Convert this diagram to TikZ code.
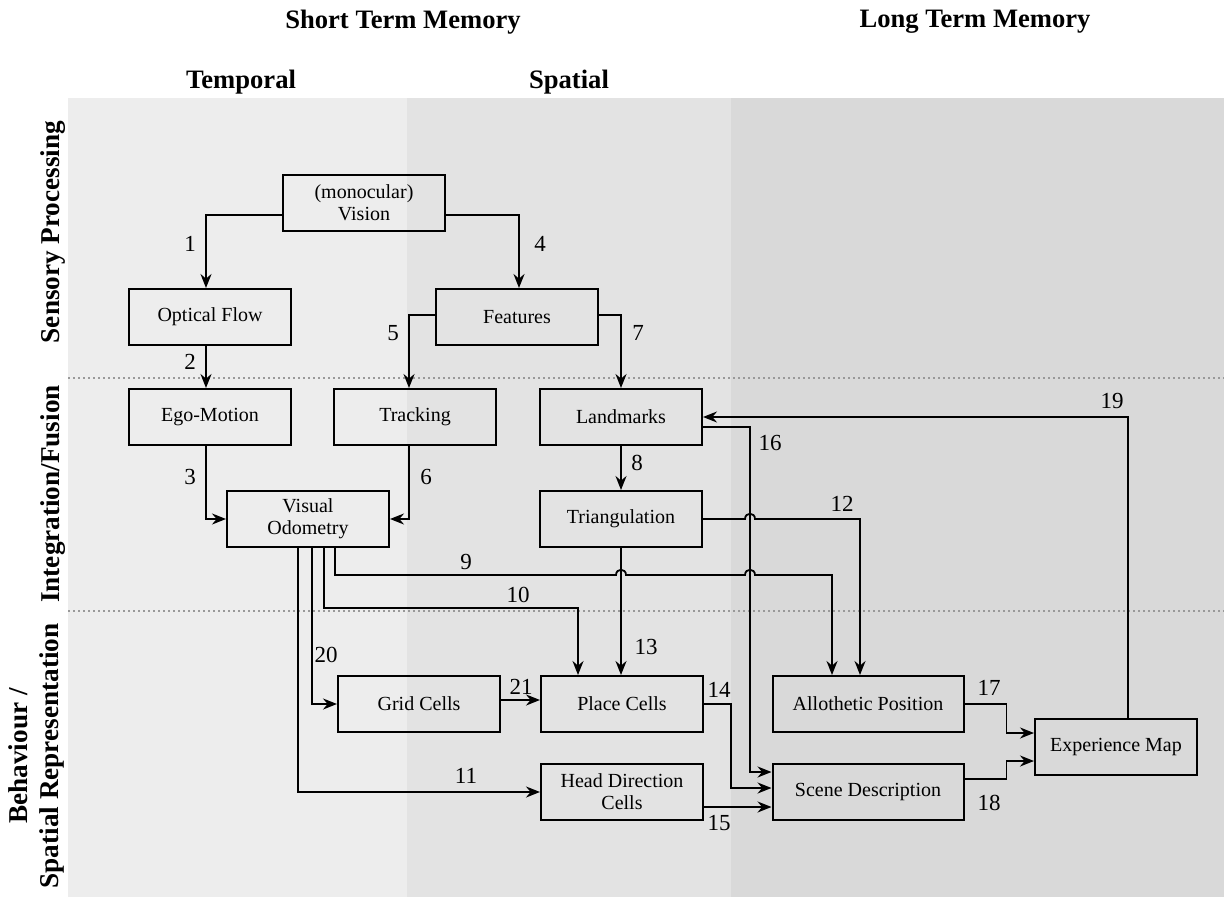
\documentclass[tikz,border=0pt]{standalone}
\usepackage{fontspec}
\setmainfont{Liberation Serif}
\usepackage{tikz}
\usetikzlibrary{positioning}
\usetikzlibrary{calc}
\usetikzlibrary{arrows.meta}
\tikzset{myBox/.style={draw, line width=1pt, minimum width=81pt, minimum height=28pt, align=center, font=\fontsize{10}{11}\selectfont}}
\tikzset{myBoxWide/.style={myBox, minimum width=95.5pt}}
\tikzset{myArrow/.style={-{Stealth[length=7pt,width=5.5pt,inset=2.3pt]}, line width=0.9pt}}
\tikzset{myNum/.style={font=\fontsize{11.5}{12}\selectfont}}
\tikzset{myHead/.style={font=\fontsize{13.3}{15.5}\selectfont\bfseries}}
\tikzset{mySide/.style={font=\fontsize{13.6}{15.5}\selectfont\bfseries, rotate=90, align=center}}
\tikzset{myRule/.style={black!40, line width=1pt, dash pattern=on 1pt off 1.5pt}}

\begin{document}
\begin{tikzpicture}[x=0.5pt, y=-0.5pt]
\useasboundingbox (0,0) rectangle (1224,897);
\fill[black!7] (68,98) rectangle (407,897);
\fill[black!11] (407,98) rectangle (731,897);
\fill[black!15] (731,98) rectangle (1224,897);
\draw[myRule] (68,378) -- (1224,378);
\draw[myRule] (68,611) -- (1224,611);

\node[myHead] (stm) at (403,22) {Short Term Memory};
\node[myHead] (ltm) at (975,22) {Long Term Memory};
\node[myHead] (temp) at (241,82) {Temporal};
\node[myHead] (spat) at (569,82) {Spatial};
\node[mySide] (sens) at (53,232) {Sensory Processing};
\node[mySide] (integ) at (53,494) {Integration/Fusion};
\node[mySide] (behav) at (36,756) {Behaviour /\\Spatial Representation};

\node[myBox] (vis) at (364,203) {(monocular)\\Vision};
\node[myBox] (optFlow) at (210,317) {Optical Flow};
\node[myBox] (feat) at (517,317) {Features};
\node[myBox] (ego) at (210,417) {Ego-Motion};
\node[myBox] (track) at (415,417) {Tracking};
\node[myBox] (lmarks) at (621,417) {Landmarks};
\node[myBox] (visOdo) at (308,519) {Visual\\Odometry};
\node[myBox] (tri) at (621,519) {Triangulation};
\node[myBox] (grid) at (419,704) {Grid Cells};
\node[myBox] (place) at (622,704) {Place Cells};
\node[myBox] (hdc) at (622,792) {Head Direction\\Cells};
\node[myBoxWide] (allo) at (868,704) {Allothetic Position};
\node[myBoxWide] (scene) at (868,792) {Scene Description};
\node[myBox] (expMap) at (1116,747) {Experience Map};

\coordinate (c16) at ($(lmarks.east)+(47,10)$);
\coordinate (c9) at ($(visOdo.south)+(27,27)$);

\draw[myArrow] ($(vis.west)+(0,12)$) -| ($(optFlow.north)+(-4,0)$);
\draw[myArrow] ($(optFlow.south)+(-4,0)$) -- ($(ego.north)+(-4,0)$);
\draw[myArrow] ($(ego.south)+(-4,0)$) |- (visOdo.west);
\draw[myArrow] ($(vis.east)+(0,12)$) -| ($(feat.north)+(2,0)$);
\draw[myArrow] ($(feat.west)+(0,-2)$) -| ($(track.north)+(-6,0)$);
\draw[myArrow] ($(track.south)+(-6,0)$) |- (visOdo.east);
\draw[myArrow] ($(feat.east)+(0,-2)$) -| (lmarks.north);
\draw[myArrow] (lmarks.south) -- (tri.north);
\draw[myArrow] ($(visOdo.south)+(27,0)$) -- (c9) -- ($(c9 -| tri.south)+(-5,0)$) .. controls ($(c9 -| tri.south)+(-5,-7)$) and ($(c9 -| tri.south)+(5,-7)$) .. ($(c9 -| tri.south)+(5,0)$) -- ($(c9 -| c16)+(-5,0)$) .. controls ($(c9 -| c16)+(-5,-7)$) and ($(c9 -| c16)+(5,-7)$) .. ($(c9 -| c16)+(5,0)$) -| ($(allo.north)+(-36,0)$);
\draw[myArrow] ($(visOdo.south)+(16,0)$) -- ++(0,60) -| ($(place.north)+(-44,0)$);
\draw[myArrow] ($(visOdo.south)+(-10,0)$) |- (hdc.west);
\draw[myArrow] (tri.east) -- ($(tri.east -| c16)+(-5,0)$) .. controls ($(tri.east -| c16)+(-5,-7)$) and ($(tri.east -| c16)+(5,-7)$) .. ($(tri.east -| c16)+(5,0)$) -| ($(allo.north)+(-8,0)$);
\draw[myArrow] (tri.south) -- (tri.south |- place.north);
\draw[myArrow] (place.east) -- ++(27,0) |- ($(scene.west)+(0,-4)$);
\draw[myArrow] ($(hdc.east)+(0,15)$) -- ($(scene.west)+(0,15)$);
\draw[myArrow] ($(lmarks.east)+(0,10)$) -- (c16) |- ($(scene.west)+(0,-20)$);
\draw[myArrow] (allo.east) -- ++(42,0) |- ($(expMap.west)+(0,-14)$);
\draw[myArrow] ($(scene.east)+(0,-13)$) -- ++(42,0) |- ($(expMap.west)+(0,14)$);
\draw[myArrow] ($(expMap.north)+(12,0)$) |- (lmarks.east);
\draw[myArrow] ($(visOdo.south)+(4,0)$) |- (grid.west);
\draw[myArrow] ($(grid.east)+(0,-4)$) -- ($(place.west)+(0,-4)$);

\node[myNum] (l1) at (190,244) {1};
\node[myNum] (l2) at (190,362) {2};
\node[myNum] (l3) at (190,477) {3};
\node[myNum] (l4) at (540,244) {4};
\node[myNum] (l5) at (393,333) {5};
\node[myNum] (l6) at (426,477) {6};
\node[myNum] (l7) at (638,333) {7};
\node[myNum] (l8) at (637,463) {8};
\node[myNum] (l9) at (466,562) {9};
\node[myNum] (l10) at (518,595) {10};
\node[myNum] (l11) at (466,776) {11};
\node[myNum] (l12) at (842,504) {12};
\node[myNum] (l13) at (646,647) {13};
\node[myNum] (l14) at (719,690) {14};
\node[myNum] (l15) at (719,823) {15};
\node[myNum] (l16) at (770,443) {16};
\node[myNum] (l17) at (989,688) {17};
\node[myNum] (l18) at (989,803) {18};
\node[myNum] (l19) at (1112,401) {19};
\node[myNum] (l20) at (326,655) {20};
\node[myNum] (l21) at (521,687) {21};
\end{tikzpicture}
\end{document}
